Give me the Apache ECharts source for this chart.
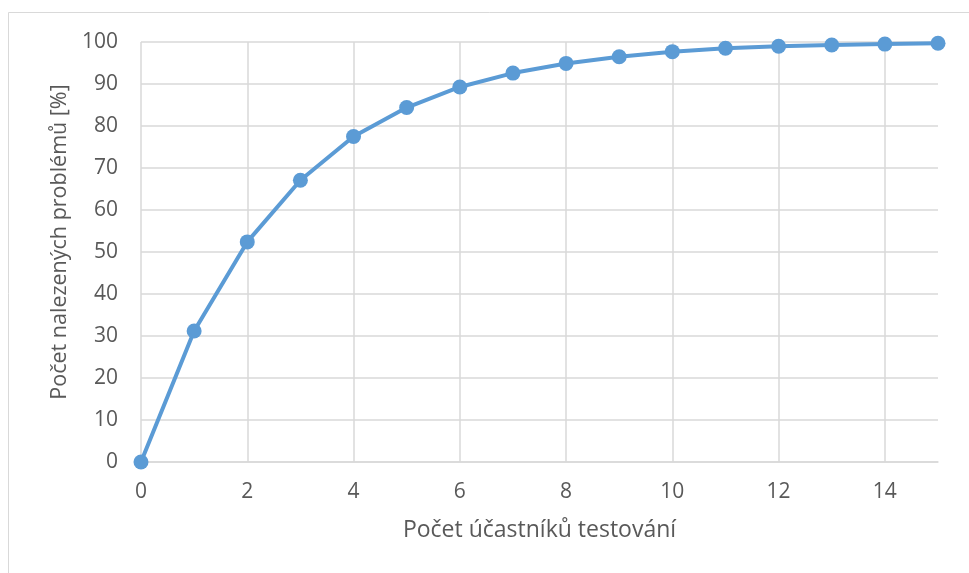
<!DOCTYPE html>
<html>
<head>
<meta charset="utf-8">
<script src="https://cdn.jsdelivr.net/npm/echarts@6/dist/echarts.min.js"></script>
<style>
  html, body { margin: 0; padding: 0; background: #ffffff; }
  #chart { width: 969px; height: 573px; }
</style>
</head>
<body>
<div id="chart"></div>
<script>
// Number of test participants
var participants = [0, 1, 2, 3, 4, 5, 6, 7, 8, 9, 10, 11, 12, 13, 14, 15];
// Share of usability problems found [%]
var problemsFound = [0, 31.2, 52.4, 67.1, 77.5, 84.4, 89.3, 92.6, 94.9, 96.5, 97.7, 98.5, 99.0, 99.3, 99.5, 99.7];

var xAxisTitle = 'Počet účastníků testování';
var yAxisTitle = 'Počet nalezených problémů [%]';

var textColor = '#595959';
var gridColor = '#d9d9d9';
var fontFamily = '"Open Sans", "DejaVu Sans", sans-serif';

var points = participants.map(function (x, i) { return [x, problemsFound[i]]; });

var chart = echarts.init(document.getElementById('chart'), null, { renderer: 'canvas' });

chart.setOption({
  animation: false,
  backgroundColor: '#ffffff',
  textStyle: { fontFamily: fontFamily },
  graphic: [{
    type: 'rect',
    shape: { x: 8.5, y: 12.5, width: 980, height: 580 },
    style: { fill: 'none', stroke: gridColor, lineWidth: 1 },
    silent: true,
    z: -1
  }],
  grid: { left: 141, right: 31, top: 42, bottom: 111 },
  xAxis: {
    type: 'value',
    min: 0,
    max: 15,
    interval: 2,
    name: xAxisTitle,
    nameLocation: 'middle',
    nameGap: 57,
    nameTextStyle: { color: textColor, fontSize: 23, fontFamily: fontFamily },
    axisLine: { show: true, lineStyle: { color: gridColor, width: 1.5 } },
    axisTick: { show: false },
    axisLabel: { color: textColor, fontSize: 21, margin: 20, showMaxLabel: false, fontFamily: fontFamily },
    splitLine: { show: true, showMaxLine: false, lineStyle: { color: gridColor, width: 1.5 } }
  },
  yAxis: {
    type: 'value',
    min: 0,
    max: 100,
    interval: 10,
    name: yAxisTitle,
    nameLocation: 'middle',
    nameGap: 69,
    nameRotate: 90,
    nameTextStyle: { color: textColor, fontSize: 21.5, fontFamily: fontFamily, padding: [0, 0, 0, 20] },
    axisLine: { show: false },
    axisTick: { show: false },
    axisLabel: { color: textColor, fontSize: 21, margin: 23, fontFamily: fontFamily },
    splitLine: { show: true, lineStyle: { color: gridColor, width: 1.5 } }
  },
  series: [{
    type: 'line',
    data: points,
    symbol: 'circle',
    symbolSize: 15,
    showSymbol: true,
    lineStyle: { color: '#5b9bd5', width: 4 },
    itemStyle: { color: '#5b9bd5' },
    z: 3
  }]
});
</script>
</body>
</html>
